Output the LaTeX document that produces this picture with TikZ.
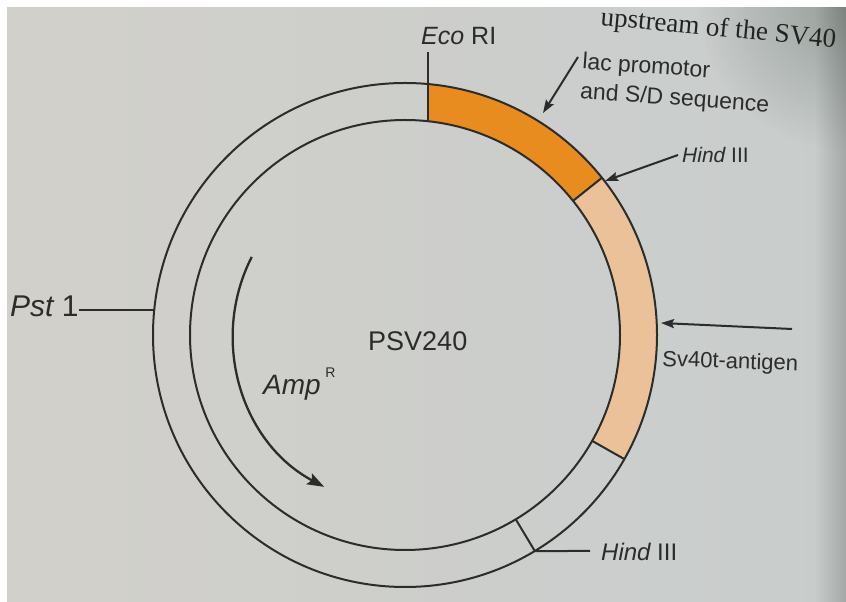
\documentclass[tikz,border=0pt]{standalone}
\usepackage{fontspec}
\setmainfont{Liberation Sans}
\newfontfamily\pageserif{Liberation Serif}
\usetikzlibrary{arrows.meta,fadings}

\definecolor{paperL}{RGB}{210,208,203}
\definecolor{paperR}{RGB}{200,205,204}
\definecolor{shadowtint}{RGB}{88,100,90}
\definecolor{ink}{RGB}{44,44,42}
\definecolor{printink}{RGB}{34,36,34}
\definecolor{lacorange}{RGB}{232,140,32}
\definecolor{svtan}{RGB}{234,193,152}

\tikzfading[name=toright, left color=transparent!100, right color=transparent!0]
\tikzfading[name=cornerfade, inner color=transparent!0, outer color=transparent!100]

\newcommand\lblsize[1]{\fontsize{#1}{#1}\selectfont}

\begin{document}
\begin{tikzpicture}[x=1pt,y=1pt,
  ring/.style={draw=ink, line width=2pt},
  tick/.style={draw=ink, line width=2pt},
  pointer/.style={draw=ink, line width=2pt, -{Stealth[length=13pt,width=9pt,inset=2pt]}},
  lbl/.style={inner sep=0pt, text=ink}]

% paper
\useasboundingbox (0,0) rectangle (846,602);
\shade[left color=paperL, right color=paperR] (0,0) rectangle (846,602);
\fill[shadowtint, opacity=0.45, path fading=cornerfade] (846,602) circle (150);
\fill[black, opacity=0.18, path fading=toright] (815,0) rectangle (846,602);

% running page text above the figure
\node[inner sep=0pt, anchor=base west, rotate=-5.5, text=printink,
      font=\pageserif\lblsize{27}] (pageTop) at (600,577) {upstream of the SV40};

% photo border
\fill[white] (0,595) rectangle (846,602);
\fill[white] (0,0) rectangle (7,602);

% plasmid ring
\begin{scope}[shift={(405,267)}]
  \coordinate (ecoI) at (23,213.77);
  \coordinate (ecoO) at (23,250.95);
  \coordinate (ecoEnd) at (23,283);
  \coordinate (hindI) at (38.6:215);
  \coordinate (hindO) at (38.6:252);
  \coordinate (svI) at (-29.5:215);
  \coordinate (svO) at (-29.5:252);
  \coordinate (hbI) at (-59:215);
  \coordinate (hbO) at (-59:252);
  \coordinate (pstC) at (174.3:252);

  \fill[lacorange] (hindO) arc[start angle=38.6, end angle=84.76, radius=252]
    -- (ecoI) arc[start angle=83.86, end angle=38.6, radius=215] -- cycle;
  \fill[svtan] (svO) arc[start angle=-29.5, end angle=38.6, radius=252]
    -- (hindI) arc[start angle=38.6, end angle=-29.5, radius=215] -- cycle;

  \draw[ring] (0,0) circle[radius=252];
  \draw[ring] (0,0) circle[radius=215];

  \draw[tick] (ecoI) -- (ecoEnd);
  \draw[tick] (hindI) -- (hindO);
  \draw[tick] (svI) -- (svO);
  \draw[tick] (hbI) -- (hbO);

  % Amp resistance gene direction
  \draw[draw=ink, line width=2.3pt, -{Stealth[length=17pt,width=12pt,inset=3pt]}]
    (153:172) arc[start angle=153, end angle=242, radius=172];
\end{scope}

% labels
\node[lbl, anchor=base west, font=\lblsize{25}] (ecoLbl) at (421,557) {\itshape Eco\upshape\ RI};
\node[lbl, anchor=north west, align=left, rotate=-4, font=\fontsize{23}{30}\selectfont]
  (lacLbl) at (583,550) {lac promotor\\and S/D sequence};
\node[lbl, anchor=west, font=\lblsize{21}] (hindTopLbl) at (682,447) {\itshape Hind\upshape\ III};
\node[lbl, anchor=base west, rotate=-2, font=\lblsize{22}] (svLbl) at (662,236) {Sv40t-antigen};
\node[lbl, anchor=west, font=\lblsize{24}] (hbLbl) at (601,50) {\itshape Hind\upshape\ III};
\node[lbl, anchor=base west, font=\lblsize{30}] (pstLbl) at (10,285) {\itshape Pst\upshape\ 1};
\node[lbl, anchor=base west, font=\lblsize{27}] (psvLbl) at (368,251) {PSV240};
\node[lbl, anchor=base west, font=\lblsize{28}] (ampLbl) at (263,207)
  {\itshape Amp\upshape\,\raisebox{17pt}{\lblsize{14}R}};

% pointers and leader lines
\coordinate (lacA) at (578,545);
\coordinate (lacT) at (543,489);
\draw[pointer] (lacA) -- (lacT);
\coordinate (htT) at (605,421);
\draw[pointer] ([xshift=-4pt]hindTopLbl.west) -- (htT);
\coordinate (svS) at (792,273);
\coordinate (svT) at (661,279);
\draw[pointer] (svS) -- (svT);
\coordinate (hbEnd) at (590,51);
\draw[tick] (hbO) -- (hbEnd);
\draw[tick] (pstC -| pstLbl.east) -- (pstC);
\end{tikzpicture}
\end{document}
